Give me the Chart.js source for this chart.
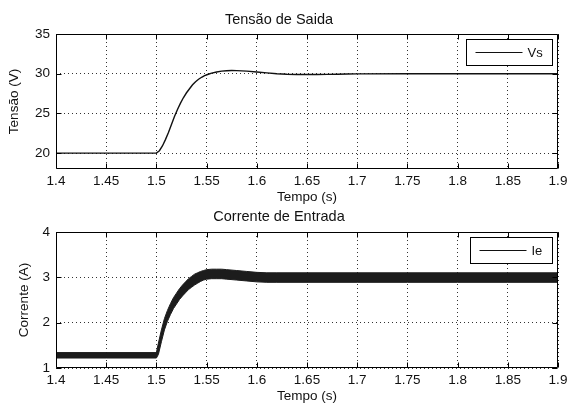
<!DOCTYPE html>
<html><head><meta charset="utf-8">
<script src="https://cdn.jsdelivr.net/npm/chart.js@4.4.0/dist/chart.umd.min.js"></script>
<style>
html,body{margin:0;padding:0;background:#fff;width:569px;height:403px;overflow:hidden}
#w1{position:absolute;left:0;top:0;width:569px;height:205px}
#w2{position:absolute;left:0;top:200px;width:569px;height:203px}
</style></head><body>
<div id="w1"><canvas id="c1"></canvas></div>
<div id="w2"><canvas id="c2"></canvas></div>
<script>
// ---- data ----
const xTicks = [1.4, 1.45, 1.5, 1.55, 1.6, 1.65, 1.7, 1.75, 1.8, 1.85, 1.9];
const xTickLabels = ['1.4','1.45','1.5','1.55','1.6','1.65','1.7','1.75','1.8','1.85','1.9'];
const vsYTicks = [20, 25, 30, 35];
const ieYTicks = [1, 2, 3, 4];

const vsTime = [1.4, 1.5, 1.503, 1.506, 1.509, 1.512, 1.515, 1.518, 1.521, 1.524, 1.527, 1.53, 1.533, 1.536, 1.539, 1.542, 1.545, 1.548, 1.551, 1.555, 1.56, 1.565, 1.57, 1.575, 1.58, 1.59, 1.6, 1.61, 1.62, 1.63, 1.64, 1.65, 1.66, 1.67, 1.68, 1.69, 1.7, 1.75, 1.8, 1.85, 1.9];
const vsValues = [20, 20, 20.3, 20.9, 21.7, 22.6, 23.6, 24.6, 25.5, 26.3, 27.0, 27.6, 28.1, 28.6, 29.0, 29.3, 29.55, 29.75, 29.9, 30.08, 30.22, 30.32, 30.38, 30.4, 30.39, 30.33, 30.22, 30.1, 30.0, 29.93, 29.9, 29.9, 29.9, 29.91, 29.93, 29.96, 29.98, 30, 30, 30, 30];

const ieTime  = [1.4, 1.45, 1.5, 1.502, 1.505, 1.508, 1.511, 1.514, 1.517, 1.52, 1.523, 1.526, 1.529, 1.532, 1.535, 1.538, 1.541, 1.544, 1.547, 1.55, 1.555, 1.56, 1.565, 1.57, 1.58, 1.59, 1.6, 1.61, 1.62, 1.65, 1.7, 1.75, 1.8, 1.85, 1.9];
const ieUpper = [1.34, 1.34, 1.34, 1.55, 1.84, 2.09, 2.27, 2.42, 2.55, 2.65, 2.75, 2.83, 2.9, 2.97, 3.02, 3.07, 3.1, 3.13, 3.15, 3.17, 3.18, 3.18, 3.18, 3.17, 3.15, 3.13, 3.11, 3.1, 3.1, 3.1, 3.1, 3.1, 3.1, 3.1, 3.1];
const ieLower = [1.22, 1.22, 1.22, 1.3, 1.58, 1.84, 2.03, 2.18, 2.31, 2.41, 2.51, 2.59, 2.66, 2.73, 2.78, 2.83, 2.87, 2.91, 2.94, 2.96, 2.97, 2.97, 2.97, 2.96, 2.94, 2.92, 2.9, 2.89, 2.89, 2.89, 2.89, 2.89, 2.89, 2.89, 2.89];

// ---- setup ----
Chart.defaults.font.family = '"Liberation Sans", Arial, Helvetica, sans-serif';
Chart.defaults.color = '#1a1a1a';

const framePlugin = {
  id: 'frame',
  afterDraw(chart, args, opts) {
    const {ctx, chartArea: a, scales: {x, y}} = chart;
    ctx.save();
    ctx.strokeStyle = '#000';
    ctx.lineWidth = 1;
    ctx.setLineDash([]);
    const L = Math.round(a.left) + 0.5, R = Math.round(a.right) - 0.5;
    const T = Math.round(a.top) + 0.5, B = Math.round(a.bottom) - 0.5;
    ctx.beginPath();
    ctx.rect(L, T, R - L, B - T);
    x.ticks.forEach(t => {
      const px = Math.round(x.getPixelForValue(t.value)) + 0.5;
      ctx.moveTo(px, T); ctx.lineTo(px, T + 5);
      ctx.moveTo(px, B); ctx.lineTo(px, B - 5);
    });
    y.ticks.forEach(t => {
      const py = Math.round(y.getPixelForValue(t.value)) + 0.5;
      ctx.moveTo(L, py); ctx.lineTo(L + 5, py);
      ctx.moveTo(R, py); ctx.lineTo(R - 5, py);
    });
    ctx.stroke();
    // legend box
    ctx.font = '13px "Liberation Sans", Arial, sans-serif';
    const tw = ctx.measureText(opts.label).width;
    const w = Math.round(9 + 47 + 5 + tw + 10), h = 26;
    const bx = Math.round(R - 6 - w) + 0.5, by = Math.round(T + 4);
    ctx.fillStyle = '#fff';
    ctx.fillRect(bx, by, w, h);
    ctx.strokeRect(bx, by + 0.5, w, h);
    ctx.beginPath();
    ctx.strokeStyle = '#111';
    ctx.moveTo(bx + 9, by + 13.5); ctx.lineTo(bx + 56, by + 13.5);
    ctx.stroke();
    ctx.fillStyle = '#111';
    ctx.textBaseline = 'middle';
    ctx.textAlign = 'left';
    ctx.fillText(opts.label, bx + 61, by + 14);
    ctx.restore();
  }
};

function makeOptions(cfg) {
  return {
    responsive: true,
    maintainAspectRatio: false,
    animation: false,
    devicePixelRatio: 1,
    layout: {padding: {left: 0, right: 11, top: 0, bottom: cfg.padBottom}},
    plugins: {
      legend: {display: false},
      tooltip: {enabled: false},
      title: {display: true, text: cfg.title, color: '#111',
              font: {size: 14.5, weight: 'normal', lineHeight: 1},
              padding: {top: cfg.titleTop, bottom: cfg.titleBottom}},
      frame: {label: cfg.legend}
    },
    scales: {
      x: {
        type: 'linear', min: 1.4, max: 1.9,
        afterBuildTicks: s => { s.ticks = xTicks.map(v => ({value: v})); },
        afterFit: s => { s.height = 35; s.paddingLeft = 0; s.paddingRight = 0; },
        ticks: {autoSkip: false, maxRotation: 0, padding: 6, color: '#111',
                font: {size: 13.5, lineHeight: 1},
                callback: (v, i) => xTickLabels[i]},
        grid: {color: 'rgba(0,0,0,0.8)', lineWidth: 1, drawTicks: false},
        border: {display: false, dash: [1, 3]},
        title: {display: true, text: 'Tempo (s)', color: '#111',
                font: {size: 13.5, lineHeight: 1}, padding: {top: 0, bottom: 0}}
      },
      y: {
        type: 'linear', min: cfg.ymin, max: cfg.ymax,
        afterBuildTicks: s => { s.ticks = cfg.yTicks.map(v => ({value: v})); },
        afterFit: s => { s.width = 56; },
        ticks: {padding: 6, color: '#111', font: {size: 13.5, lineHeight: 1}},
        grid: {color: 'rgba(0,0,0,0.8)', lineWidth: 1, drawTicks: false},
        border: {display: false, dash: [1, 3]},
        title: {display: true, text: cfg.yTitle, color: '#111',
                font: {size: 13.5, lineHeight: 1}, padding: {top: cfg.yTitlePad, bottom: 0}}
      }
    }
  };
}

new Chart(document.getElementById('c1'), {
  type: 'line',
  data: {datasets: [{
    label: 'Vs',
    data: vsTime.map((t, i) => ({x: t, y: vsValues[i]})),
    borderColor: '#111', borderWidth: 1.4, pointRadius: 0, tension: 0, fill: false
  }]},
  options: makeOptions({title: 'Tensão de Saida', titleTop: 13, titleBottom: 6.5, padBottom: 1,
    ymin: 18, ymax: 35, yTicks: vsYTicks, yTitle: 'Tensão (V)', yTitlePad: 8, legend: 'Vs'}),
  plugins: [framePlugin]
});

new Chart(document.getElementById('c2'), {
  type: 'line',
  data: {datasets: [
    {label: 'Ie low', data: ieTime.map((t, i) => ({x: t, y: ieLower[i]})),
     borderColor: '#1c1c1c', borderWidth: 1, pointRadius: 0, tension: 0, fill: false},
    {label: 'Ie', data: ieTime.map((t, i) => ({x: t, y: ieUpper[i]})),
     borderColor: '#1c1c1c', borderWidth: 1, pointRadius: 0, tension: 0,
     fill: '-1', backgroundColor: '#1c1c1c'}
  ]},
  options: makeOptions({title: 'Corrente de Entrada', titleTop: 10, titleBottom: 7.5, padBottom: 0,
    ymin: 1, ymax: 4, yTicks: ieYTicks, yTitle: 'Corrente (A)', yTitlePad: 18, legend: 'Ie'}),
  plugins: [framePlugin]
});
</script>
</body></html>
